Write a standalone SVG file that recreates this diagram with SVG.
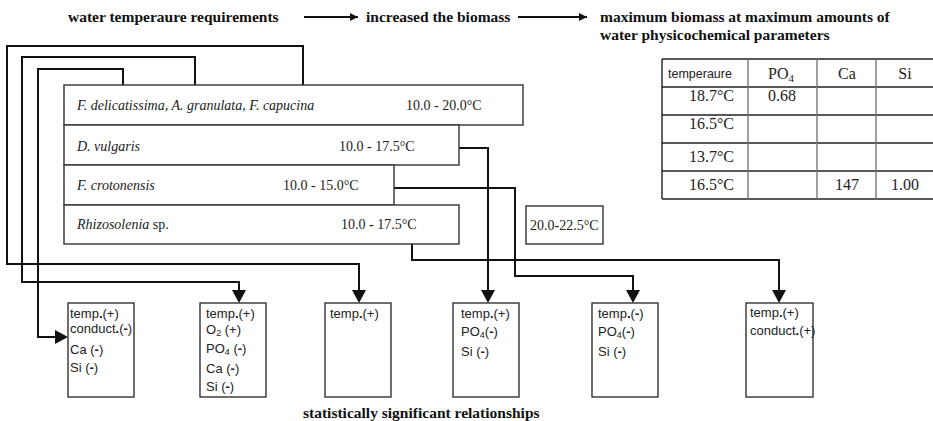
<svg xmlns="http://www.w3.org/2000/svg" width="933" height="421" viewBox="0 0 933 421">
<style>
.title{font-family:"Liberation Serif","Times New Roman",serif;font-weight:bold;font-size:15.5px;fill:#111}
.sp{font-family:"Liberation Serif","Times New Roman",serif;font-size:14px;fill:#222}
.it{font-style:italic}
.sans{font-family:"Liberation Sans",Arial,sans-serif;font-size:13px;fill:#222}
.tv{font-family:"Liberation Serif","Times New Roman",serif;font-size:16px;fill:#222}
.box{fill:#fff;stroke:#333;stroke-width:1.4}
.conn{fill:none;stroke:#111;stroke-width:2}
.tl{stroke:#222;stroke-width:1.4}
.tg{stroke:#777;stroke-width:1.4}
.b{font-weight:bold}
</style>
<defs>
<marker id="ah" viewBox="0 0 10 10" refX="10" refY="5" markerWidth="9" markerHeight="8" markerUnits="userSpaceOnUse" orient="auto">
<path d="M0,0 L10,5 L0,10 z" fill="#111"/>
</marker>
</defs>

<g id="header">
<text class="title" x="68" y="22">water temperaure requirements</text>
<line class="conn" x1="304" y1="17" x2="358" y2="17" marker-end="url(#ah)"/>
<text class="title" x="366" y="22">increased the biomass</text>
<line class="conn" x1="518" y1="17" x2="587" y2="17" marker-end="url(#ah)"/>
<text class="title" x="600" y="22">maximum biomass at maximum amounts of</text>
<text class="title" x="600" y="40">water physicochemical parameters</text>
</g>

<g id="connectors">
<path class="conn" d="M303,85 V46 H7 V264 H359 V291"/>
<path class="conn" d="M195,85 V57 H22 V282 H239 V291"/>
<path class="conn" d="M123,85 V69 H38 V337 H56"/>
<path class="conn" d="M459,148 H488 V291"/>
<path class="conn" d="M394,188 H515 V276 H633 V291"/>
<path class="conn" d="M412,244 V260 H779 V291"/>
<g fill="#111">
<path d="M352,290 L366,290 L359,303 z"/>
<path d="M232,290 L246,290 L239,303 z"/>
<path d="M481,290 L495,290 L488,303 z"/>
<path d="M626,290 L640,290 L633,303 z"/>
<path d="M772,290 L786,290 L779,303 z"/>
<path d="M55,330 L55,344 L68,337 z"/>
</g>
</g>

<g id="species-a">
<rect class="box" x="64" y="85" width="459" height="40"/>
<text class="sp it" x="77" y="110">F. delicatissima, A. granulata, F. capucina</text>
<text class="sp" x="406" y="110">10.0 - 20.0°C</text>
</g>
<g id="species-b">
<rect class="box" x="64" y="125" width="395" height="40"/>
<text class="sp it" x="77" y="151">D. vulgaris</text>
<text class="sp" x="339" y="151">10.0 - 17.5°C</text>
</g>
<g id="species-c">
<rect class="box" x="64" y="165" width="330" height="40"/>
<text class="sp it" x="77" y="190">F. crotonensis</text>
<text class="sp" x="283" y="190">10.0 - 15.0°C</text>
</g>
<g id="species-d">
<rect class="box" x="64" y="205" width="395" height="39"/>
<text class="sp" x="77" y="229"><tspan class="it">Rhizosolenia</tspan> sp.</text>
<text class="sp" x="341" y="229">10.0 <tspan class="b">-</tspan> 17.5°C</text>
</g>
<g id="range-box">
<rect class="box" x="526" y="206" width="77" height="38"/>
<text class="sp" x="530" y="230">20.0<tspan class="b">-</tspan>22.5°C</text>
</g>

<g id="table">
<line class="tl" x1="662" y1="59" x2="933" y2="59"/>
<line class="tl" x1="662" y1="87" x2="933" y2="87"/>
<line class="tl" x1="662" y1="115" x2="933" y2="115"/>
<line class="tl" x1="662" y1="143" x2="933" y2="143"/>
<line class="tl" x1="662" y1="171" x2="933" y2="171"/>
<line class="tl" x1="662" y1="199" x2="933" y2="199"/>
<line class="tl" x1="662" y1="59" x2="662" y2="199"/>
<line class="tg" x1="748" y1="59" x2="748" y2="199"/>
<line class="tg" x1="817" y1="59" x2="817" y2="199"/>
<line class="tg" x1="876" y1="59" x2="876" y2="199"/>
<text class="sans" x="668" y="78" style="font-size:12.5px">temperaure</text>
<text class="tv" x="781" y="79" text-anchor="middle">PO<tspan font-size="11" dy="3">4</tspan></text>
<text class="tv" x="847" y="79" text-anchor="middle">Ca</text>
<text class="tv" x="905" y="79" text-anchor="middle">Si</text>
<text class="tv" x="734" y="101" text-anchor="end">18.7°C</text>
<text class="tv" x="768" y="101">0.68</text>
<text class="tv" x="734" y="129" text-anchor="end">16.5°C</text>
<text class="tv" x="734" y="162" text-anchor="end">13.7°C</text>
<text class="tv" x="734" y="190" text-anchor="end">16.5°C</text>
<text class="tv" x="847" y="190" text-anchor="middle">147</text>
<text class="tv" x="905" y="190" text-anchor="middle">1.00</text>
</g>

<g id="result-1">
<rect class="box" x="68" y="303" width="66" height="94"/>
<text class="sans" x="70" y="318">temp<tspan class="b">.</tspan>(+)</text>
<text class="sans" x="70" y="333">conduct<tspan class="b">.</tspan>(<tspan class="b">-</tspan>)</text>
<text class="sans" x="70" y="354">Ca (<tspan class="b">-</tspan>)</text>
<text class="sans" x="70" y="372">Si (<tspan class="b">-</tspan>)</text>
</g>
<g id="result-2">
<rect class="box" x="200" y="303" width="66" height="94"/>
<text class="sans" x="206" y="318">temp<tspan class="b">.</tspan>(+)</text>
<text class="sans" x="206" y="334">O<tspan font-size="9" dy="2">2</tspan><tspan dy="-2"> (+)</tspan></text>
<text class="sans" x="206" y="353">PO<tspan font-size="9" dy="2">4</tspan><tspan dy="-2"> (<tspan class="b">-</tspan>)</tspan></text>
<text class="sans" x="206" y="373">Ca (<tspan class="b">-</tspan>)</text>
<text class="sans" x="206" y="391">Si (<tspan class="b">-</tspan>)</text>
</g>
<g id="result-3">
<rect class="box" x="325" y="303" width="66" height="94"/>
<text class="sans" x="330" y="318">temp<tspan class="b">.</tspan>(+)</text>
</g>
<g id="result-4">
<rect class="box" x="453" y="303" width="66" height="94"/>
<text class="sans" x="461" y="318">temp<tspan class="b">.</tspan>(+)</text>
<text class="sans" x="461" y="336">PO<tspan font-size="9" dy="2">4</tspan><tspan dy="-2">(<tspan class="b">-</tspan>)</tspan></text>
<text class="sans" x="461" y="356">Si (<tspan class="b">-</tspan>)</text>
</g>
<g id="result-5">
<rect class="box" x="592" y="303" width="66" height="94"/>
<text class="sans" x="598" y="318">temp<tspan class="b">.</tspan>(<tspan class="b">-</tspan>)</text>
<text class="sans" x="598" y="336">PO<tspan font-size="9" dy="2">4</tspan><tspan dy="-2">(<tspan class="b">-</tspan>)</tspan></text>
<text class="sans" x="598" y="356">Si (<tspan class="b">-</tspan>)</text>
</g>
<g id="result-6">
<rect class="box" x="746" y="303" width="67" height="94"/>
<text class="sans" x="750" y="317">temp<tspan class="b">.</tspan>(+)</text>
<text class="sans" x="750" y="335">conduct<tspan class="b">.</tspan>(+)</text>
</g>

<g id="footer">
<text class="title" x="303" y="418">statistically significant relationships</text>
</g>
</svg>
